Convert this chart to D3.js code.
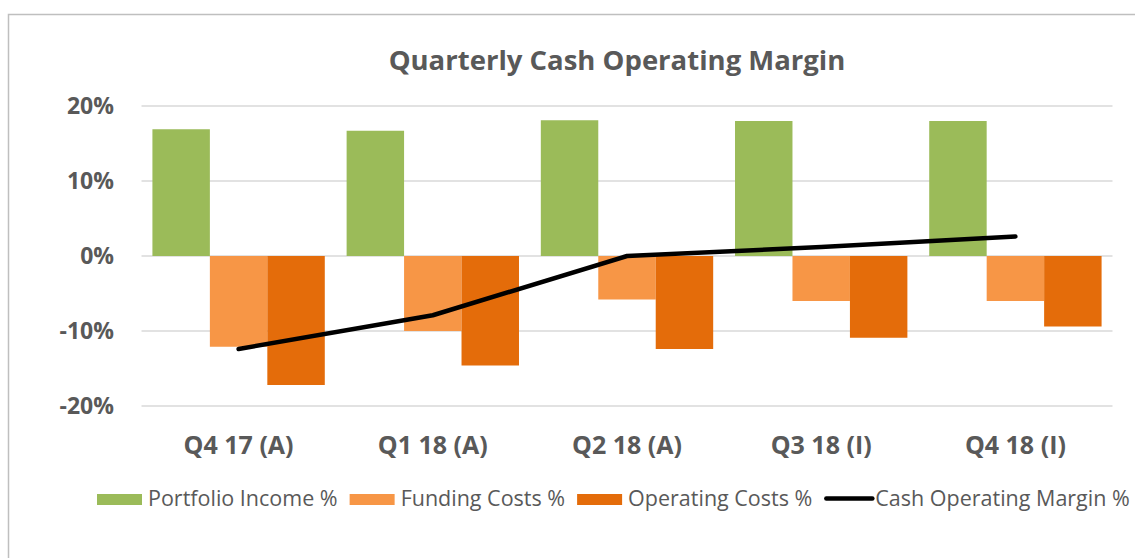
<html>
<head>
<meta charset="utf-8">
<style>
body { margin: 0; background: #fff; }
text { font-family: "Open Sans", sans-serif; fill: #595959; }
.grid line { stroke: #d9d9d9; stroke-width: 1.5; }
</style>
</head>
<body>
<svg width="1135" height="558"></svg>
<script src="https://d3js.org/d3.v7.min.js"></script>
<script>

var categories = ["Q4 17 (A)", "Q1 18 (A)", "Q2 18 (A)", "Q3 18 (I)", "Q4 18 (I)"];
var series = ["Portfolio Income %", "Funding Costs %", "Operating Costs %"];
var portfolioIncome = [0.169, 0.167, 0.181, 0.180, 0.180];
var fundingCosts = [-0.121, -0.100, -0.058, -0.060, -0.060];
var operatingCosts = [-0.172, -0.146, -0.124, -0.109, -0.094];
var cashMargin = [-0.124, -0.079, 0.000, 0.012, 0.026];
var yTicks = [-0.2, -0.1, 0, 0.1, 0.2];
var colors = ["#9bbb59", "#f79646", "#e46c0a"];
var lineName = "Cash Operating Margin %";

var svg = d3.select("svg");
var values = [portfolioIncome, fundingCosts, operatingCosts];

// chart frame (cut off on the right and bottom like the source)
svg.append("rect")
    .attr("x", 8.5).attr("y", 14.5)
    .attr("width", 1200).attr("height", 600)
    .attr("fill", "none").attr("stroke", "#bfbfbf").attr("stroke-width", 1.5);

svg.append("text")
    .attr("x", 617).attr("y", 70)
    .attr("text-anchor", "middle")
    .style("font-size", "27.5px").style("font-weight", "bold")
    .text("Quarterly Cash Operating Margin");

var x0 = d3.scaleBand().domain(categories).range([141.5, 1112.5]);
var x1 = d3.scaleBand().domain(series).range([0, x0.bandwidth()]).paddingOuter(0.19);
var y = d3.scaleLinear().domain([-0.2, 0.2]).range([406, 106]);

// gridlines
svg.append("g").attr("class", "grid")
    .selectAll("line").data(yTicks).join("line")
    .attr("x1", 141.5).attr("x2", 1112.5)
    .attr("y1", d => y(d)).attr("y2", d => y(d));

// y labels
var pct = d => d3.format(".0%")(d).replace("\u2212", "-");
svg.append("g").selectAll("text").data(yTicks).join("text")
    .attr("x", 114).attr("y", d => y(d))
    .attr("dy", "0.36em")
    .attr("text-anchor", "end")
    .style("font-size", "23px").style("font-weight", "bold")
    .text(pct);

// bars
series.forEach(function(s, i) {
    svg.append("g").selectAll("rect").data(values[i]).join("rect")
        .attr("x", (d, j) => x0(categories[j]) + x1(s))
        .attr("width", x1.bandwidth())
        .attr("y", d => y(Math.max(0, d)))
        .attr("height", d => Math.abs(y(d) - y(0)))
        .attr("fill", colors[i]);
});

// line
var line = d3.line()
    .x((d, j) => x0(categories[j]) + x0.bandwidth() / 2)
    .y(d => y(d));
svg.append("path")
    .datum(cashMargin)
    .attr("d", line)
    .attr("fill", "none").attr("stroke", "#000")
    .attr("stroke-width", 4.5).attr("stroke-linecap", "round").attr("stroke-linejoin", "round");

// x labels
svg.append("g").selectAll("text").data(categories).join("text")
    .attr("x", d => x0(d) + x0.bandwidth() / 2)
    .attr("y", 454)
    .attr("text-anchor", "middle")
    .style("font-size", "25px").style("font-weight", "bold")
    .text(d => d);

// legend
var legend = svg.append("g");
var lx = 97;
series.forEach(function(s, i) {
    legend.append("rect")
        .attr("x", lx).attr("y", 494)
        .attr("width", 45).attr("height", 11)
        .attr("fill", colors[i]);
    var t = legend.append("text")
        .attr("x", lx + 51).attr("y", 506)
        .style("font-size", "21.5px")
        .text(s);
    lx = lx + 51 + t.node().getComputedTextLength() + 12;
});
legend.append("line")
    .attr("x1", lx + 2).attr("x2", lx + 48)
    .attr("y1", 498.5).attr("y2", 498.5)
    .attr("stroke", "#000").attr("stroke-width", 4.5).attr("stroke-linecap", "round");
legend.append("text")
    .attr("x", lx + 51).attr("y", 506)
    .style("font-size", "21.5px")
    .text(lineName);

</script>
</body>
</html>
